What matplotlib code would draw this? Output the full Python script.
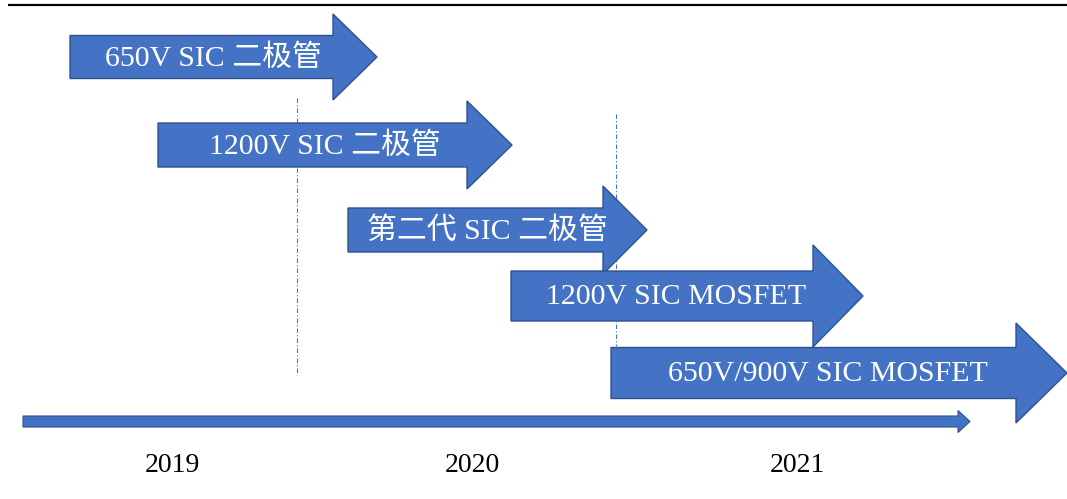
import matplotlib
matplotlib.use("Agg")
import matplotlib.pyplot as plt
from matplotlib.patches import FancyArrow

# ---- data ----
labels = ["650V SIC 二极管", "1200V SIC 二极管", "第二代 SIC 二极管",
          "1200V SIC MOSFET", "650V/900V SIC MOSFET"]
starts = [70, 158, 348, 511, 611]        # timeline position where each stage starts
ends = [377, 512, 647, 863, 1067]        # timeline position of arrow tip
rows = [57, 145, 230, 296, 373]          # vertical row centres
years = ["2019", "2020", "2021"]
year_pos = [172, 472, 797]
milestones = [297, 616]
milestone_top = [98, 114]
milestone_bottom = [375, 346]

FILL = "#4472C4"
EDGE = "#2F528F"
FONT = ["Liberation Serif", "Noto Sans CJK SC", "DejaVu Sans"]

fig = plt.figure(figsize=(10.67, 4.99), dpi=100)
ax = fig.add_axes([0, 0, 1, 1])
ax.set_xlim(0, 1067)
ax.set_ylim(499, 0)
ax.axis("off")

# top rule
ax.plot([8, 1067], [5, 5], color="black", lw=1.6, solid_capstyle="butt", zorder=1)

# milestone dash-dot lines
for x, t, b in zip(milestones, milestone_top, milestone_bottom):
    ax.plot([x, x], [t, b], color=FILL, lw=0.8, ls=(0, (4, 2, 1, 2)), zorder=1)

body_h = [43, 44, 44, 50, 51]
head_h = [86, 88, 88, 102, 100]
head_l = [44, 45, 44, 50, 51]

for lab, s, e, y, bh, hh, hl in zip(labels, starts, ends, rows, body_h, head_h, head_l):
    arr = FancyArrow(s, y, e - s, 0, width=bh, head_width=hh, head_length=hl,
                     length_includes_head=True, facecolor=FILL, edgecolor=EDGE,
                     lw=1.0, zorder=2)
    ax.add_patch(arr)
    body_end = e - hl
    tx = (s + body_end) / 2 + 0.28 * hl
    ax.text(tx, y + 1, lab, color="white", fontsize=21.5, family=FONT,
            ha="center", va="center", zorder=3)

# bottom timeline arrow
ax.add_patch(FancyArrow(23, 421.5, 970 - 23, 0, width=11, head_width=22, head_length=12,
                        length_includes_head=True, facecolor=FILL, edgecolor=EDGE,
                        lw=0.8, zorder=2))

for yl, xp in zip(years, year_pos):
    ax.text(xp, 465, yl, color="black", fontsize=20, family=FONT,
            ha="center", va="center")

fig.savefig("out.png", dpi=100)
